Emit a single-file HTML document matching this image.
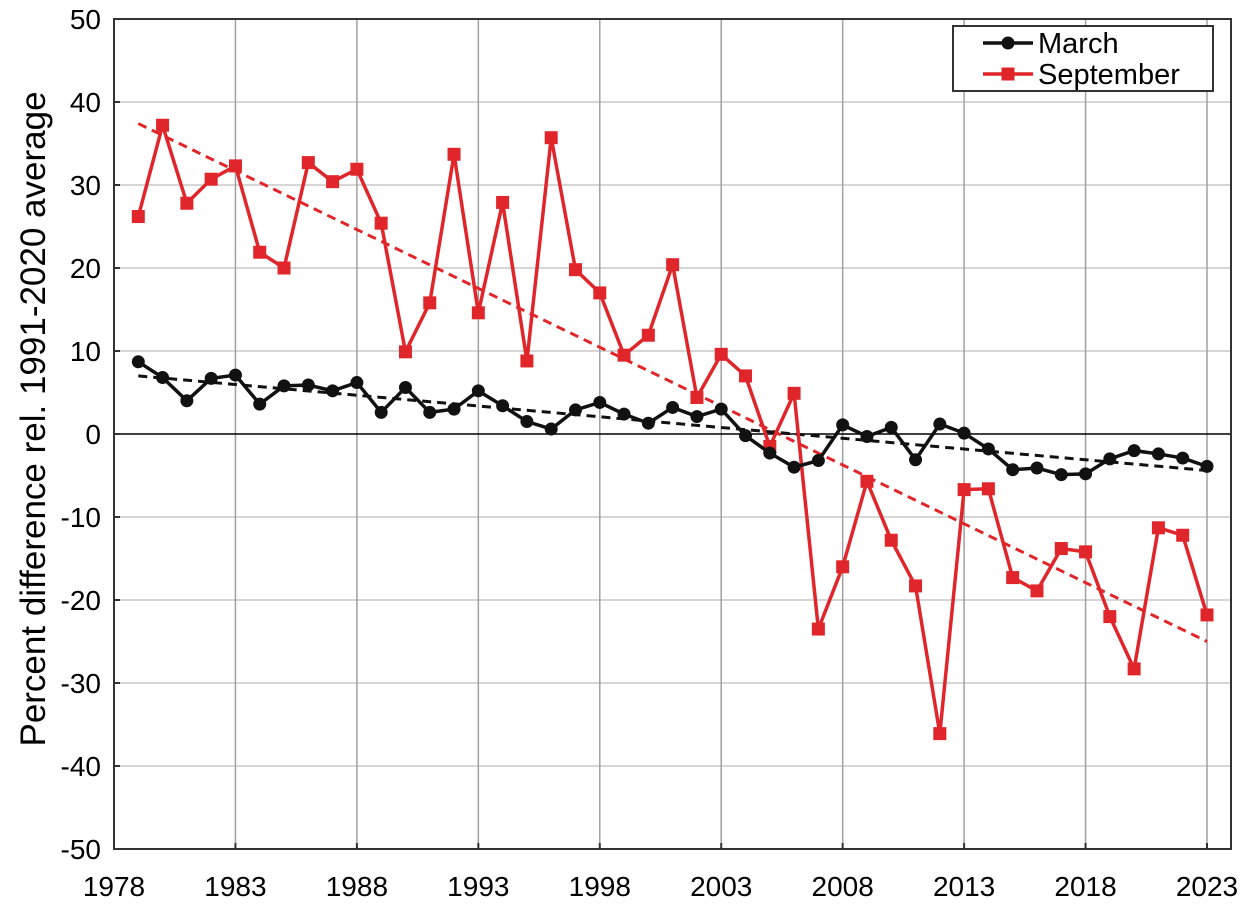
<!DOCTYPE html>
<html><head><meta charset="utf-8"><style>html,body{margin:0;padding:0;background:#fff}</style></head>
<body>
<svg id="s" width="1252" height="917" xmlns="http://www.w3.org/2000/svg" font-family="Liberation Sans, sans-serif"></svg>
<script>
const s=document.getElementById('s');
const X=y=>114+(y-1978)*1093/45, Y=v=>434-v*8.3;
let h='';
for(let v=-40;v<=40;v+=10) if(v!==0) h+=`<line x1="114" x2="1231" y1="${Y(v)}" y2="${Y(v)}" stroke="#c8c8c8" stroke-width="1.5"/>`;
for(let y=1983;y<=2023;y+=5) h+=`<line x1="${X(y)}" x2="${X(y)}" y1="19" y2="849" stroke="#a0a0a0" stroke-width="1.5"/>`;
h+=`<line x1="114" x2="1231" y1="${Y(0)}" y2="${Y(0)}" stroke="#000" stroke-width="1.5"/>`;
h+=`<rect x="114" y="19" width="1117" height="830" fill="none" stroke="#333" stroke-width="2"/>`;
for(let v=-50;v<=50;v+=10){h+=`<line x1="114" x2="120" y1="${Y(v)}" y2="${Y(v)}" stroke="#333" stroke-width="2"/>`;
 h+=`<text x="101" y="${Y(v)+10}" font-size="28" text-anchor="end">${v}</text>`;}
for(let y=1978;y<=2023;y+=5){h+=`<line x1="${X(y)}" x2="${X(y)}" y1="843" y2="849" stroke="#333" stroke-width="2"/>`;
 h+=`<text x="${X(y)}" y="896" font-size="28" text-anchor="middle">${y}</text>`;}
h+=`<text transform="translate(45,419) rotate(-90)" font-size="35" text-anchor="middle">Percent difference rel. 1991-2020 average</text>`;
const mar=[8.7,6.8,4.0,6.7,7.1,3.6,5.8,5.9,5.2,6.2,2.6,5.6,2.6,3.0,5.2,3.4,1.5,0.6,2.9,3.8,2.4,1.3,3.2,2.1,3.0,-0.2,-2.3,-4.0,-3.2,1.1,-0.3,0.8,-3.1,1.2,0.1,-1.8,-4.3,-4.1,-4.9,-4.8,-3.0,-2.0,-2.4,-2.9,-3.9];
const sep=[26.2,37.2,27.8,30.7,32.3,21.9,20.0,32.7,30.4,31.9,25.4,9.9,15.8,33.7,14.6,27.9,8.8,35.7,19.8,17.0,9.5,11.9,20.4,4.4,9.6,7.0,-1.5,4.9,-23.5,-16.0,-5.7,-12.8,-18.3,-36.1,-6.7,-6.6,-17.3,-18.9,-13.8,-14.2,-22.0,-28.3,-11.3,-12.2,-21.8];
h+=`<line x1="${X(1979)}" y1="${Y(37.4)}" x2="${X(2023)}" y2="${Y(-25)}" stroke="#e0262b" stroke-width="3" stroke-dasharray="9,6"/>`;
h+=`<line x1="${X(1979)}" y1="${Y(7.0)}" x2="${X(2023)}" y2="${Y(-4.4)}" stroke="#111" stroke-width="3" stroke-dasharray="9,6"/>`;
const pts=a=>a.map((v,i)=>X(1979+i)+','+Y(v)).join(' ');
h+=`<polyline points="${pts(sep)}" fill="none" stroke="#e0262b" stroke-width="3.5"/>`;
sep.forEach((v,i)=>h+=`<rect x="${X(1979+i)-6.5}" y="${Y(v)-6.5}" width="13" height="13" fill="#e0262b"/>`);
h+=`<polyline points="${pts(mar)}" fill="none" stroke="#111" stroke-width="3.5"/>`;
mar.forEach((v,i)=>h+=`<circle cx="${X(1979+i)}" cy="${Y(v)}" r="6.5" fill="#111"/>`);
h+=`<rect x="953" y="26" width="260" height="65" fill="#fff" stroke="#333" stroke-width="2"/>`;
h+=`<line x1="983" x2="1033" y1="43" y2="43" stroke="#111" stroke-width="3.5"/><circle cx="1008" cy="43" r="6.5" fill="#111"/>`;
h+=`<text x="1038" y="53" font-size="29">March</text>`;
h+=`<line x1="983" x2="1033" y1="74" y2="74" stroke="#e0262b" stroke-width="3.5"/><rect x="1001.5" y="67.5" width="13" height="13" fill="#e0262b"/>`;
h+=`<text x="1038" y="84" font-size="29">September</text>`;
s.innerHTML=h;
</script>
</body></html>
